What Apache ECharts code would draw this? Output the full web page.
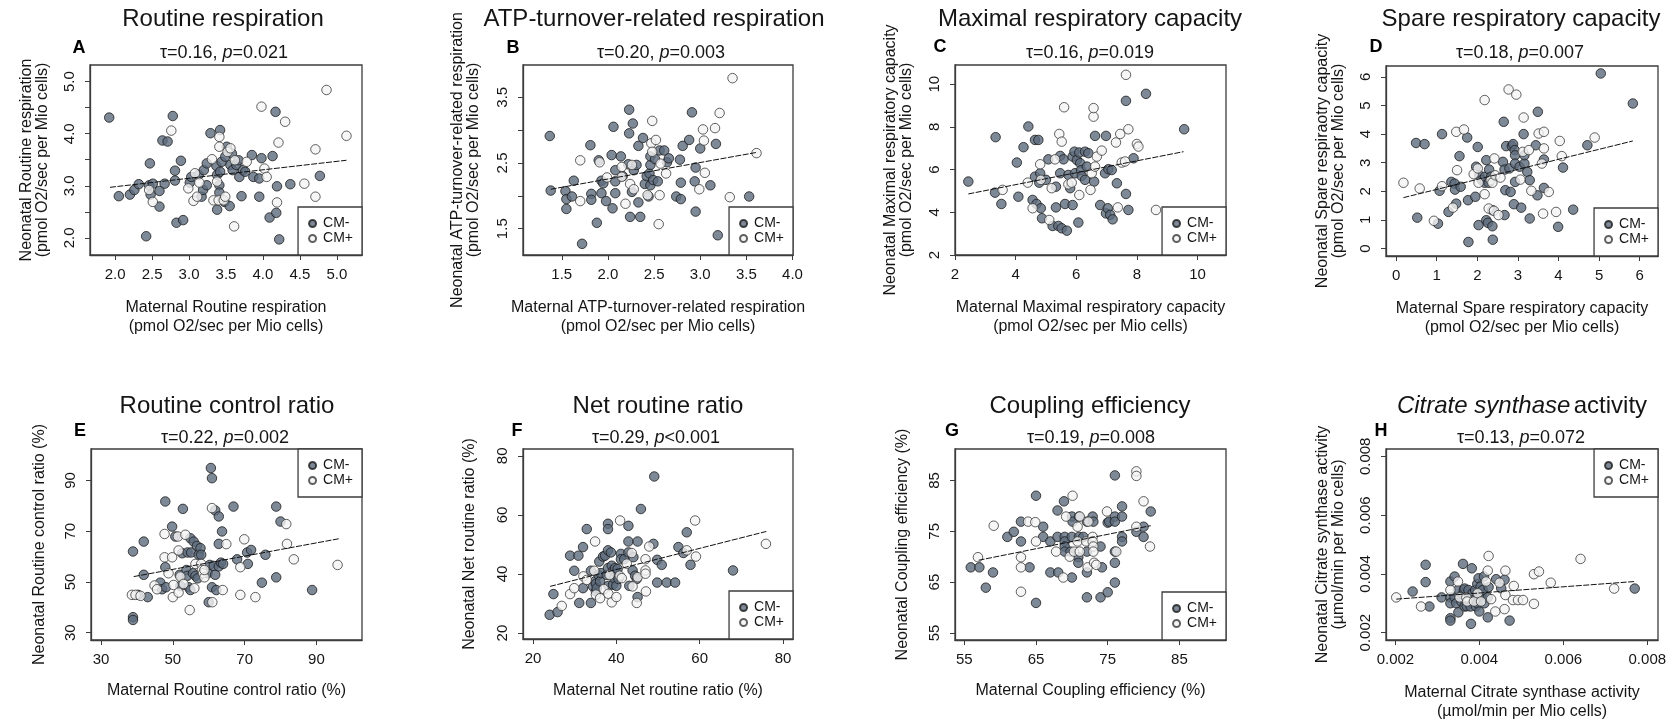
<!DOCTYPE html>
<html><head><meta charset="utf-8">
<script src="https://cdn.jsdelivr.net/npm/echarts@6/dist/echarts.min.js"></script>
<style>html,body{margin:0;padding:0;background:#fff}#c{width:1678px;height:723px}</style>
</head><body><div id="c"></div>
<script>
// ---------------- DATA ----------------
const panelTitles = ['Routine respiration','ATP-turnover-related respiration','Maximal respiratory capacity','Spare respiratory capacity','Routine control ratio','Net routine ratio','Coupling efficiency','Citrate synthase activity'];
const panelLetters = ['A','B','C','D','E','F','G','H'];
const tauValues = ['0.16','0.20','0.16','0.18','0.22','0.29','0.19','0.13'];
const pValues = ['=0.021','=0.003','=0.019','=0.007','=0.002','<0.001','=0.008','=0.072'];
const xNames = ['Maternal Routine respiration\n(pmol O2/sec per Mio cells)','Maternal ATP-turnover-related respiration\n(pmol O2/sec per Mio cells)','Maternal Maximal respiratory capacity\n(pmol O2/sec per Mio cells)','Maternal Spare respiratory capacity\n(pmol O2/sec per Mio cells)','Maternal Routine control ratio (%)','Maternal Net routine ratio (%)','Maternal Coupling efficiency (%)','Maternal Citrate synthase activity\n(µmol/min per Mio cells)'];
const yNames = ['Neonatal Routine respiration\n(pmol O2/sec per Mio cells)','Neonatal ATP-turnover-related respiration\n(pmol O2/sec per Mio cells)','Neonatal Maximal respiratory capacity\n(pmol O2/sec per Mio cells)','Neonatal Spare respiraotry capacity\n(pmol O2/sec per Mio cells)','Neonatal Routine control ratio (%)','Neonatal Net routine ratio (%)','Neonatal Coupling efficiency (%)','Neonatal Citrate synthase activity\n(µmol/min per Mio cells)'];

const A_cmMinus = [[1.92,4.31],[2.05,2.80],[2.20,2.83],[2.26,2.92],[2.32,3.03],[2.42,2.03],[2.46,3.01],[2.47,3.43],[2.48,2.83],[2.51,3.04],[2.60,2.90],[2.60,2.60],[2.64,3.87],[2.67,3.04],[2.71,3.85],[2.78,4.34],[2.81,3.29],[2.81,3.10],[2.83,2.29],[2.89,3.48],[2.92,2.34],[3.01,3.06],[3.03,3.17],[3.13,3.21],[3.17,2.79],[3.19,2.92],[3.20,3.30],[3.24,3.43],[3.24,3.01],[3.29,4.01],[3.37,3.38],[3.38,3.21],[3.38,2.54],[3.42,4.07],[3.41,3.01],[3.41,2.87],[3.42,3.27],[3.44,3.46],[3.48,2.69],[3.49,3.56],[3.51,3.75],[3.55,2.61],[3.56,3.40],[3.58,3.62],[3.59,3.30],[3.64,3.40],[3.67,3.49],[3.68,3.17],[3.71,2.80],[3.73,3.30],[3.76,3.27],[3.85,3.59],[3.87,3.17],[3.95,2.79],[3.95,3.14],[3.98,3.53],[4.09,2.39],[4.13,3.57],[4.17,4.42],[4.18,2.48],[4.19,2.99],[4.22,1.97],[4.37,3.03],[4.77,3.19]];
const A_cmPlus = [[2.46,2.92],[2.51,2.69],[2.76,4.06],[2.99,2.95],[3.06,2.71],[3.08,3.24],[3.11,2.79],[3.14,3.06],[3.31,3.51],[3.33,2.72],[3.38,3.08],[3.40,2.72],[3.41,3.94],[3.41,3.75],[3.47,2.72],[3.49,2.79],[3.52,3.65],[3.56,3.72],[3.61,2.22],[3.62,3.49],[3.78,3.46],[3.98,4.52],[4.02,3.33],[4.05,3.17],[4.19,2.68],[4.21,3.83],[4.30,4.23],[4.56,3.04],[4.71,3.70],[4.71,2.79],[4.86,4.84],[5.13,3.96]];
const A_trend = [[1.93,2.97],[5.13,3.49]];

const B_cmMinus = [[1.37,2.91],[1.38,2.08],[1.54,2.07],[1.55,1.95],[1.55,1.80],[1.61,1.99],[1.63,2.23],[1.72,1.27],[1.81,2.77],[1.82,2.03],[1.82,1.94],[1.88,1.59],[1.90,2.54],[1.93,2.23],[1.93,2.04],[1.95,2.19],[1.98,1.92],[2.04,2.62],[2.05,1.81],[2.06,3.05],[2.08,2.39],[2.08,2.22],[2.08,2.04],[2.14,2.60],[2.16,2.30],[2.22,2.48],[2.23,3.31],[2.23,2.95],[2.24,1.68],[2.26,2.06],[2.27,3.10],[2.28,2.39],[2.31,2.47],[2.33,1.90],[2.33,2.76],[2.35,1.68],[2.38,2.88],[2.40,2.18],[2.42,2.30],[2.44,1.99],[2.45,2.34],[2.46,2.47],[2.46,2.60],[2.46,2.16],[2.49,2.24],[2.51,2.56],[2.54,2.22],[2.56,2.69],[2.61,2.69],[2.64,2.51],[2.66,2.57],[2.74,1.99],[2.78,2.55],[2.79,2.20],[2.79,1.95],[2.81,2.76],[2.88,2.85],[2.91,3.27],[2.94,2.22],[2.95,2.43],[2.95,1.76],[3.00,2.72],[3.11,2.16],[3.17,2.79],[3.19,1.40],[3.53,1.99]];
const B_cmPlus = [[1.70,2.54],[1.70,1.92],[1.91,2.51],[1.99,2.28],[2.15,2.44],[2.15,2.29],[2.19,1.88],[2.26,2.47],[2.24,2.18],[2.28,2.10],[2.43,2.01],[2.47,2.80],[2.48,3.14],[2.48,2.67],[2.52,2.85],[2.55,1.57],[2.56,2.01],[2.57,2.49],[2.63,2.34],[2.99,2.10],[3.03,3.01],[3.04,2.84],[3.05,2.35],[3.16,3.03],[3.21,3.26],[3.32,1.98],[3.35,3.79],[3.61,2.65]];
const B_trend = [[1.38,2.10],[3.61,2.66]];

const C_cmMinus = [[2.44,5.44],[3.34,7.52],[3.32,4.92],[3.53,4.39],[4.04,6.33],[4.09,4.73],[4.26,7.05],[4.42,8.02],[4.56,4.58],[4.64,7.39],[4.64,5.67],[4.69,4.39],[4.75,7.39],[4.78,5.39],[4.81,5.83],[4.83,4.19],[4.87,3.72],[5.00,5.52],[5.08,6.48],[5.22,3.36],[5.33,5.20],[5.33,4.23],[5.41,3.36],[5.47,6.64],[5.47,5.83],[5.52,3.25],[5.58,6.48],[5.63,4.39],[5.69,3.14],[5.74,5.75],[5.80,5.13],[5.88,4.34],[5.88,6.61],[5.94,6.84],[5.96,5.83],[6.02,6.45],[6.07,3.52],[6.10,6.80],[6.13,6.30],[6.16,5.98],[6.18,5.70],[6.29,6.84],[6.29,5.52],[6.35,6.14],[6.40,6.77],[6.59,5.44],[6.62,7.58],[6.79,4.34],[6.95,5.83],[6.98,7.58],[6.98,3.95],[7.04,4.19],[7.06,6.02],[7.12,3.88],[7.17,5.98],[7.20,3.67],[7.34,5.36],[7.64,4.86],[7.64,9.22],[7.72,4.11],[7.89,6.53],[8.30,9.55],[9.56,7.89]];
const C_cmPlus = [[3.57,5.05],[4.40,5.39],[4.56,4.19],[4.81,6.25],[4.83,5.52],[5.11,3.64],[5.19,5.13],[5.30,6.48],[5.44,7.67],[5.52,7.31],[5.60,8.92],[5.74,5.31],[5.85,5.39],[6.10,4.81],[6.47,5.05],[6.51,5.83],[6.57,8.48],[6.57,8.88],[6.62,6.14],[6.68,6.61],[6.84,6.89],[7.31,7.27],[7.37,4.23],[7.45,7.67],[7.50,6.33],[7.61,6.38],[7.64,10.44],[7.72,7.89],[8.00,7.20],[8.05,7.08],[8.63,4.11]];
const C_trend = [[2.44,4.86],[9.54,6.84]];

const D_cmMinus = [[0.49,3.69],[0.52,1.08],[0.70,3.65],[1.03,0.87],[1.07,2.02],[1.13,4.00],[1.29,1.28],[1.36,2.33],[1.44,2.27],[1.45,2.06],[1.48,1.57],[1.56,3.23],[1.59,2.16],[1.75,3.88],[1.77,1.69],[1.78,0.23],[1.95,1.81],[1.97,2.86],[2.01,3.55],[2.03,0.82],[2.05,2.56],[2.11,2.39],[2.18,2.30],[2.19,2.51],[2.22,3.09],[2.22,0.99],[2.26,0.90],[2.28,2.30],[2.29,2.76],[2.34,2.51],[2.37,1.34],[2.37,0.78],[2.38,0.31],[2.63,3.03],[2.65,4.43],[2.67,1.17],[2.67,2.76],[2.69,2.04],[2.71,3.58],[2.79,2.80],[2.82,1.98],[2.85,3.58],[2.88,3.65],[2.90,1.55],[2.92,3.44],[2.93,2.33],[2.93,3.26],[2.93,2.97],[3.04,2.86],[3.08,1.43],[3.14,4.00],[3.16,2.97],[3.16,3.26],[3.23,2.68],[3.29,2.39],[3.29,1.05],[3.44,3.61],[3.48,1.86],[3.49,4.78],[3.64,3.11],[3.64,2.12],[3.99,0.76],[4.11,2.83],[4.36,1.36],[4.71,3.61],[5.04,6.12],[5.83,5.07]];
const D_cmPlus = [[0.18,2.30],[0.58,2.10],[0.93,0.97],[1.13,2.18],[1.40,1.43],[1.48,4.08],[1.50,2.74],[1.67,4.16],[1.91,2.60],[2.01,2.80],[2.03,2.30],[2.18,5.19],[2.18,1.90],[2.28,1.40],[2.33,2.39],[2.37,2.30],[2.41,1.32],[2.42,3.15],[2.44,2.56],[2.52,1.17],[2.57,2.48],[2.77,5.56],[2.96,5.38],[3.06,2.41],[3.12,3.38],[3.14,4.58],[3.27,3.44],[3.33,2.02],[3.51,4.02],[3.59,2.97],[3.62,1.22],[3.64,3.50],[3.64,4.08],[3.76,1.98],[3.94,1.28],[4.03,3.76],[4.08,3.23],[4.89,3.88]];
const D_trend = [[0.18,1.78],[5.83,3.76]];

const E_cmMinus = [[38.9,62.0],[38.9,36.1],[38.9,35.0],[40.3,44.9],[41.9,65.9],[41.9,52.8],[43.0,44.0],[46.5,49.7],[47.0,47.1],[47.9,81.7],[47.9,55.8],[48.1,47.9],[49.8,71.8],[50.7,67.9],[51.9,52.8],[52.1,48.4],[52.6,61.3],[52.8,78.8],[53.8,54.7],[54.0,52.4],[54.1,61.6],[54.4,47.9],[54.9,46.8],[54.9,67.2],[55.1,61.6],[55.6,53.4],[55.8,65.9],[56.3,52.4],[56.7,64.2],[56.9,51.4],[57.2,60.7],[57.7,63.3],[57.9,60.7],[59.7,53.4],[60.0,42.0],[60.3,56.7],[60.6,94.9],[60.9,90.9],[60.9,47.9],[61.4,56.3],[61.8,78.2],[61.8,52.8],[62.1,46.8],[62.8,56.1],[62.8,65.0],[62.8,75.8],[63.4,57.6],[63.7,69.9],[64.0,57.1],[66.9,79.7],[67.9,58.9],[70.7,61.6],[70.9,57.1],[71.8,62.6],[74.8,49.7],[75.8,60.7],[78.8,79.7],[78.8,51.8],[80.0,73.8],[88.8,46.8]];
const E_cmPlus = [[38.6,44.9],[39.6,44.9],[41.0,44.5],[44.9,48.6],[45.6,47.1],[47.7,68.9],[47.7,59.7],[48.8,53.4],[49.8,59.7],[50.0,44.0],[50.2,48.8],[51.4,67.9],[51.6,62.4],[51.6,45.8],[52.1,52.1],[53.0,49.2],[53.5,68.6],[54.7,38.9],[56.0,47.5],[56.3,57.1],[57.9,57.1],[58.1,54.7],[58.4,53.4],[58.8,51.8],[58.8,54.7],[60.9,79.1],[61.0,42.0],[63.9,46.8],[64.9,64.9],[68.8,55.8],[68.8,44.9],[69.9,66.8],[73.0,44.0],[81.6,72.8],[81.8,65.0],[83.7,58.9],[95.9,56.7]];
const E_trend = [[39.1,52.1],[96.2,67.0]];

const F_cmMinus = [[24.0,26.2],[24.9,33.2],[25.9,27.1],[28.9,46.2],[29.9,41.1],[30.9,46.2],[31.1,30.2],[32.0,49.1],[32.0,35.2],[32.9,55.2],[33.9,41.1],[33.9,30.2],[34.4,35.8],[34.9,37.5],[35.1,34.1],[35.1,36.7],[35.3,35.2],[35.7,39.7],[35.9,44.2],[36.1,37.5],[36.3,40.3],[36.8,45.9],[37.3,46.2],[37.7,39.7],[38.0,57.0],[38.0,55.2],[38.0,48.0],[38.0,42.0],[38.1,36.0],[38.7,47.3],[38.9,42.8],[39.2,36.4],[39.3,41.2],[39.5,38.6],[39.7,42.0],[40.0,36.0],[40.1,40.3],[40.3,41.7],[40.5,38.3],[41.1,46.8],[41.1,45.0],[41.9,45.0],[42.9,56.3],[42.9,51.0],[42.9,47.3],[43.1,36.0],[43.9,41.2],[44.1,45.7],[44.5,39.4],[44.9,38.3],[45.1,51.0],[45.1,32.2],[45.9,62.0],[48.9,50.2],[49.1,73.0],[49.8,44.8],[49.8,37.1],[50.9,43.1],[52.1,37.1],[54.1,37.1],[54.9,49.1],[56.1,47.1],[56.9,54.1],[57.8,43.1],[68.0,41.2]];
const F_cmPlus = [[26.9,29.2],[28.9,33.2],[29.9,35.2],[32.1,39.2],[32.9,38.0],[34.7,41.1],[34.9,51.0],[35.1,33.0],[36.1,31.8],[37.0,34.9],[38.1,33.3],[38.4,39.7],[38.9,30.4],[40.0,32.2],[40.8,39.4],[40.9,58.1],[41.3,38.6],[42.5,43.5],[43.7,47.1],[43.9,35.8],[44.9,30.2],[45.1,38.9],[47.0,41.2],[47.0,40.1],[47.0,45.0],[47.1,34.1],[47.9,49.3],[56.9,48.0],[58.9,58.1],[59.1,45.9],[75.9,50.2]];
const F_trend = [[24.1,35.8],[76.0,54.4]];

const G_cmMinus = [[55.9,67.9],[57.1,67.9],[58.0,63.9],[59.0,66.9],[61.0,73.9],[61.9,74.9],[62.9,76.9],[62.9,73.0],[64.1,67.9],[65.0,82.0],[65.0,60.9],[66.0,75.9],[66.0,73.9],[67.0,73.0],[67.0,66.9],[68.0,79.1],[68.0,73.9],[68.1,66.9],[68.9,80.9],[69.0,73.9],[69.0,73.0],[69.0,72.0],[69.0,71.0],[69.8,71.0],[70.0,77.9],[70.0,73.9],[70.0,65.9],[70.1,76.9],[70.9,69.9],[70.9,68.8],[71.0,77.9],[71.0,73.9],[71.6,73.9],[72.1,76.9],[72.1,71.0],[72.1,66.9],[72.1,62.0],[72.9,77.9],[73.0,76.9],[74.0,72.0],[74.0,62.0],[74.2,67.9],[75.0,76.7],[75.0,63.0],[75.2,76.9],[76.0,86.0],[76.0,77.9],[76.0,76.9],[76.0,71.0],[76.0,68.8],[76.0,64.9],[77.0,79.9],[77.0,77.9],[77.0,73.9],[77.0,73.0],[79.0,74.9],[80.0,75.9],[80.0,73.9],[81.0,78.9]];
const G_cmPlus = [[56.9,69.9],[59.1,76.1],[62.9,69.9],[62.9,67.9],[62.9,63.1],[63.9,76.9],[64.9,76.8],[65.0,73.0],[67.8,71.0],[68.8,65.9],[69.2,77.9],[69.7,70.0],[70.1,82.0],[70.3,71.0],[70.8,75.9],[70.8,73.0],[71.1,77.9],[71.1,71.0],[72.0,73.0],[72.2,67.9],[72.3,76.9],[72.9,73.9],[72.9,73.0],[73.0,72.0],[73.0,71.0],[73.1,68.8],[73.4,68.4],[74.9,78.9],[76.2,71.0],[79.0,86.8],[79.0,85.9],[79.0,75.9],[80.0,80.9],[80.9,72.0]];
const G_trend = [[57.0,69.3],[81.0,76.1]];

const H_cmMinus = [[0.00241,0.00340],[0.00272,0.00431],[0.00272,0.00372],[0.00281,0.00289],[0.00310,0.00320],[0.00331,0.00374],[0.00331,0.00320],[0.00331,0.00300],[0.00331,0.00249],[0.00331,0.00241],[0.00341,0.00391],[0.00341,0.00320],[0.00345,0.00300],[0.00349,0.00345],[0.00350,0.00269],[0.00357,0.00306],[0.00360,0.00330],[0.00361,0.00434],[0.00363,0.00345],[0.00365,0.00289],[0.00365,0.00350],[0.00370,0.00290],[0.00374,0.00345],[0.00379,0.00289],[0.00380,0.00230],[0.00382,0.00419],[0.00384,0.00334],[0.00385,0.00310],[0.00390,0.00345],[0.00392,0.00289],[0.00395,0.00366],[0.00395,0.00300],[0.00398,0.00385],[0.00400,0.00272],[0.00400,0.00320],[0.00403,0.00357],[0.00405,0.00330],[0.00408,0.00345],[0.00411,0.00391],[0.00412,0.00300],[0.00420,0.00320],[0.00420,0.00252],[0.00422,0.00355],[0.00440,0.00382],[0.00452,0.00351],[0.00460,0.00380],[0.00472,0.00241],[0.00770,0.00350]];
const H_cmPlus = [[0.00202,0.00320],[0.00261,0.00289],[0.00331,0.00345],[0.00349,0.00374],[0.00353,0.00320],[0.00369,0.00320],[0.00371,0.00306],[0.00387,0.00306],[0.00396,0.00334],[0.00404,0.00306],[0.00416,0.00374],[0.00420,0.00411],[0.00422,0.00461],[0.00428,0.00314],[0.00438,0.00272],[0.00448,0.00370],[0.00460,0.00280],[0.00462,0.00411],[0.00462,0.00328],[0.00480,0.00311],[0.00482,0.00359],[0.00492,0.00311],[0.00504,0.00311],[0.00530,0.00399],[0.00530,0.00298],[0.00542,0.00408],[0.00570,0.00370],[0.00641,0.00451],[0.00721,0.00350]];
const H_trend = [[0.00202,0.00314],[0.00770,0.00374]];

// tick values / tick labels
const A_xTicks = [2.0,2.5,3.0,3.5,4.0,4.5,5.0], A_xLabels = [2.0,2.5,3.0,3.5,4.0,4.5,5.0];
const A_yTicks = [2.0,2.5,3.0,3.5,4.0,4.5,5.0], A_yLabels = [2.0,3.0,4.0,5.0];
const B_xTicks = [1.5,2.0,2.5,3.0,3.5,4.0], B_xLabels = [1.5,2.0,2.5,3.0,3.5,4.0];
const B_yTicks = [1.5,2.0,2.5,3.0,3.5,4.0], B_yLabels = [1.5,2.5,3.5];
const C_xTicks = [2,4,6,8,10], C_xLabels = [2,4,6,8,10];
const C_yTicks = [2,4,6,8,10], C_yLabels = [2,4,6,8,10];
const D_xTicks = [0,1,2,3,4,5,6], D_xLabels = [0,1,2,3,4,5,6];
const D_yTicks = [0,1,2,3,4,5,6], D_yLabels = [0,1,2,3,4,5,6];
const E_xTicks = [30,50,70,90], E_xLabels = [30,50,70,90];
const E_yTicks = [30,50,70,90], E_yLabels = [30,50,70,90];
const F_xTicks = [20,40,60,80], F_xLabels = [20,40,60,80];
const F_yTicks = [20,40,60,80], F_yLabels = [20,40,60,80];
const G_xTicks = [55,65,75,85], G_xLabels = [55,65,75,85];
const G_yTicks = [55,65,75,85], G_yLabels = [55,65,75,85];
const H_xTicks = [0.002,0.004,0.006,0.008], H_xLabels = [0.002,0.004,0.006,0.008];
const H_yTicks = [0.002,0.004,0.006,0.008], H_yLabels = [0.002,0.004,0.006,0.008];

// ---------------- LAYOUT / STYLE ----------------
const FONT = '"Liberation Sans", Arial, Helvetica, sans-serif';
const TXT = '#151515';
const panels = [
 {minus:A_cmMinus, plus:A_cmPlus, trend:A_trend, xt:A_xTicks, xl:A_xLabels, yt:A_yTicks, yl:A_yLabels, dec:1},
 {minus:B_cmMinus, plus:B_cmPlus, trend:B_trend, xt:B_xTicks, xl:B_xLabels, yt:B_yTicks, yl:B_yLabels, dec:1},
 {minus:C_cmMinus, plus:C_cmPlus, trend:C_trend, xt:C_xTicks, xl:C_xLabels, yt:C_yTicks, yl:C_yLabels, dec:0},
 {minus:D_cmMinus, plus:D_cmPlus, trend:D_trend, xt:D_xTicks, xl:D_xLabels, yt:D_yTicks, yl:D_yLabels, dec:0},
 {minus:E_cmMinus, plus:E_cmPlus, trend:E_trend, xt:E_xTicks, xl:E_xLabels, yt:E_yTicks, yl:E_yLabels, dec:0},
 {minus:F_cmMinus, plus:F_cmPlus, trend:F_trend, xt:F_xTicks, xl:F_xLabels, yt:F_yTicks, yl:F_yLabels, dec:0},
 {minus:G_cmMinus, plus:G_cmPlus, trend:G_trend, xt:G_xTicks, xl:G_xLabels, yt:G_yTicks, yl:G_yLabels, dec:0},
 {minus:H_cmMinus, plus:H_cmPlus, trend:H_trend, xt:H_xTicks, xl:H_xLabels, yt:H_yTicks, yl:H_yLabels, dec:3}
];
const layout = [
 {g:[90,65,272,190],  xr:[1.66,5.34], yr:[1.67,5.32], xGap:43, yGap:39, tc:223, sc:224, ty:19, sy:53, lx:79, ly:48, leg:{right:1316, bottom:468}},
 {g:[523,65,270,190], xr:[1.08,4.005], yr:[1.10,3.99], xGap:43, yGap:41, tc:654, sc:661, ty:19, sy:53, lx:513, ly:48, leg:{right:885, bottom:468}},
 {g:[955,65,271,190], xr:[2.0,10.94], yr:[2.0,10.9], xGap:43, yGap:40, tc:1090, sc:1090, ty:19, sy:53, lx:940, ly:47, leg:{right:452, bottom:468}},
 {g:[1386,66,272,190],xr:[-0.25,6.45], yr:[-0.26,6.38], xGap:43, yGap:39, tc:1521, sc:1520, ty:19, sy:53, lx:1376, ly:47, leg:{right:20, bottom:467}},
 {g:[91,449,271,191], xr:[27.2,102.7], yr:[27.1,102.4], xGap:41, yGap:43, tc:227, sc:225, ty:406, sy:438, lx:80, ly:431, leg:{right:1316, top:449}},
 {g:[523,449,270,190],xr:[17.6,82.4], yr:[18.0,82.3], xGap:42, yGap:45, tc:658, sc:656, ty:406, sy:438, lx:517, ly:431, leg:{right:885, bottom:84}},
 {g:[955,449,271,191],xr:[53.7,91.5], yr:[53.6,91.2], xGap:41, yGap:44, tc:1090, sc:1091, ty:406, sy:438, lx:952, ly:431, leg:{right:452, bottom:83}},
 {g:[1386,449,272,191],xr:[0.001776,0.008255], yr:[0.00175,0.00825], xGap:43, yGap:39, tc:1522, sc:1521, ty:406, sy:438, lx:1381, ly:431, leg:{right:20, top:449}}
];

const option = {animation:false, backgroundColor:'#ffffff', grid:[], xAxis:[], yAxis:[], series:[], legend:[], graphic:[]};
const BOX = '#3c3c3c';
panels.forEach((p,i)=>{
  const L = layout[i];
  const fmt = v => p.dec ? Number(v).toFixed(p.dec) : String(Math.round(v));
  option.grid.push({left:L.g[0], top:L.g[1], width:L.g[2], height:L.g[3], show:true, borderColor:BOX, borderWidth:1.3, backgroundColor:'transparent'});
  const axisCommon = {gridIndex:i, type:'value', splitLine:{show:false},
    axisLine:{show:true, onZero:false, lineStyle:{color:BOX, width:1.3}},
    nameLocation:'middle'};
  option.xAxis.push(Object.assign({}, axisCommon, {
    min:L.xr[0], max:L.xr[1], name:xNames[i], nameGap:L.xGap,
    nameTextStyle:{fontSize:16, lineHeight:19, fontFamily:FONT, color:TXT},
    axisTick:{show:true, length:5, customValues:p.xt, lineStyle:{color:BOX, width:1}},
    axisLabel:{customValues:p.xl, formatter:fmt, fontSize:15, fontFamily:FONT, color:TXT, margin:12, hideOverlap:false}
  }));
  option.yAxis.push(Object.assign({}, axisCommon, {
    min:L.yr[0], max:L.yr[1], name:yNames[i], nameGap:L.yGap,
    nameTextStyle:{fontSize:16, lineHeight:16.5, fontFamily:FONT, color:TXT},
    axisTick:{show:true, length:5, customValues:p.yt, lineStyle:{color:BOX, width:1}},
    axisLabel:{customValues:p.yl, formatter:fmt, rotate:90, fontSize:15, fontFamily:FONT, color:TXT, margin:13, hideOverlap:false}
  }));
  option.series.push({type:'scatter', name:'CM-', xAxisIndex:i, yAxisIndex:i, data:p.minus, symbol:'circle', symbolSize:9.5,
    itemStyle:{color:'#5d6c7d', borderColor:'#1b1b1b', borderWidth:1}, z:3});
  option.series.push({type:'scatter', name:'CM+', xAxisIndex:i, yAxisIndex:i, data:p.plus, symbol:'circle', symbolSize:9.5,
    itemStyle:{color:'#f4f4f4', borderColor:'#3a3a3a', borderWidth:1}, z:3});
  option.series.push({type:'line', name:'fit'+i, xAxisIndex:i, yAxisIndex:i, data:p.trend, symbol:'none', silent:true,
    lineStyle:{color:'#111', width:1, type:[6,1.5]}, z:4});
  option.legend.push(Object.assign({data:['CM-','CM+'], orient:'vertical', selectedMode:false, icon:'circle',
    itemWidth:7, itemHeight:7, itemGap:0, padding:[9,9,9,10], borderColor:BOX, borderWidth:1.3, borderRadius:0,
    backgroundColor:'#fff',
    textStyle:{fontSize:14, lineHeight:15, fontFamily:FONT, color:TXT, padding:[0,0,0,2]}}, L.leg));
  const title = i === 7
    ? {text:'{it|Citrate synthase} {n|activity}', rich:{it:{fontSize:24, fontStyle:'italic', fontFamily:FONT, fill:TXT}, n:{fontSize:24, fontFamily:FONT, fill:TXT}}}
    : {text:panelTitles[i], fontSize:24, fontFamily:FONT};
  option.graphic.push({type:'text', x:L.tc, y:L.ty, silent:true,
    style:Object.assign({fill:TXT, align:'center', verticalAlign:'middle'}, title)});
  option.graphic.push({type:'text', x:L.sc, y:L.sy, silent:true,
    style:{text:'{n|τ=' + tauValues[i] + ', }{it|p}{n|' + pValues[i] + '}', fill:TXT, align:'center', verticalAlign:'middle',
      rich:{n:{fontSize:18, fontFamily:FONT, fill:TXT}, it:{fontSize:18, fontStyle:'italic', fontFamily:FONT, fill:TXT}}}});
  option.graphic.push({type:'text', x:L.lx, y:L.ly, silent:true,
    style:{text:panelLetters[i], fontSize:18, fontWeight:'bold', fontFamily:FONT, fill:'#000', align:'center', verticalAlign:'middle'}});
});

const chart = echarts.init(document.getElementById('c'), null, {renderer:'canvas'});
chart.setOption(option);
</script>
</body></html>
